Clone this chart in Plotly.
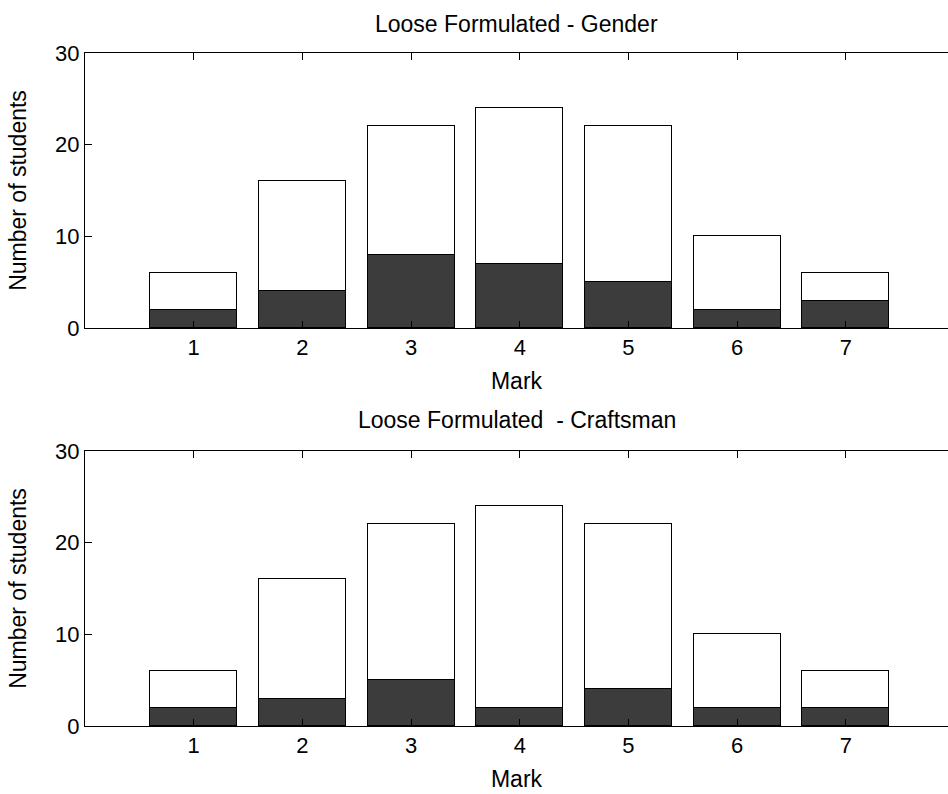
import plotly.graph_objects as go

marks = [1, 2, 3, 4, 5, 6, 7]
totals_gender = [6, 16, 22, 24, 22, 10, 6]
dark_gender = [2, 4, 8, 7, 5, 2, 3]
totals_craft = [6, 16, 22, 24, 22, 10, 6]
dark_craft = [2, 3, 5, 2, 4, 2, 2]
y_ticks = [0, 10, 20, 30]
title_top = "Loose Formulated - Gender"
title_bottom = "Loose Formulated \u00a0- Craftsman"

DARK = "#3c3c3c"
FONT = "Liberation Sans, Arial, sans-serif"
FS = 22
FL = 23

fig = go.Figure()

def add_pair(totals, dark, xa, ya):
    upper = [t - d for t, d in zip(totals, dark)]
    fig.add_trace(go.Bar(x=marks, y=dark, width=0.8, xaxis=xa, yaxis=ya,
                         marker=dict(color=DARK, line=dict(color="black", width=1)),
                         showlegend=False, hoverinfo="skip"))
    fig.add_trace(go.Bar(x=marks, y=upper, width=0.8, xaxis=xa, yaxis=ya,
                         marker=dict(color="white", line=dict(color="black", width=1)),
                         showlegend=False, hoverinfo="skip"))

add_pair(totals_gender, dark_gender, "x", "y")
add_pair(totals_craft, dark_craft, "x2", "y2")

H = 794.0
t, b = 53, 68
ph = H - t - b
top_dom = [(726 - 328) / ph, 1.0]
bot_dom = [0.0, 275 / ph]

xcommon = dict(range=[0, 7.94], tickmode="array", tickvals=marks,
               ticks="inside", ticklen=7, tickcolor="black", tickwidth=1,
               showline=True, linecolor="black", linewidth=1, mirror="ticks",
               showgrid=False, zeroline=False,
               tickfont=dict(family=FONT, size=FS, color="black"),
               title=dict(text="Mark", font=dict(family=FONT, size=FL, color="black"), standoff=13))
ycommon = dict(range=[0, 30], tickmode="array", tickvals=y_ticks,
               ticks="inside", ticklen=7, tickcolor="black", tickwidth=1,
               showline=True, linecolor="black", linewidth=1, mirror=False,
               showgrid=False, zeroline=False,
               tickfont=dict(family=FONT, size=FS, color="black"),
               title=dict(text="Number of students", font=dict(family=FONT, size=FL, color="black"), standoff=22))
yright = dict(range=[0, 30], tickmode="array", tickvals=y_ticks, side="right",
              ticks="inside", ticklen=5, tickcolor="black", tickwidth=1,
              showline=False, showgrid=False, zeroline=False, showticklabels=False)

fig.update_layout(
    width=948, height=794,
    margin=dict(l=85, r=0, t=t, b=b),
    paper_bgcolor="white", plot_bgcolor="white",
    barmode="stack", bargap=0,
    xaxis=dict(**xcommon, domain=[0, 1], anchor="y"),
    yaxis=dict(**ycommon, domain=top_dom, anchor="x"),
    xaxis2=dict(**xcommon, domain=[0, 1], anchor="y2"),
    yaxis2=dict(**ycommon, domain=bot_dom, anchor="x2"),
    yaxis3=dict(**yright, domain=top_dom, anchor="x", overlaying="y"),
    yaxis4=dict(**yright, domain=bot_dom, anchor="x2", overlaying="y2"),
    annotations=[
        dict(text=title_top, xref="paper", yref="paper", x=0.5, y=1.0, yshift=29,
             showarrow=False, yanchor="middle", font=dict(family=FONT, size=FL, color="black")),
        dict(text=title_bottom, xref="paper", yref="paper", x=0.5, y=bot_dom[1], yshift=31,
             showarrow=False, yanchor="middle", font=dict(family=FONT, size=FL, color="black")),
    ],
)

fig.write_html("out.html")
